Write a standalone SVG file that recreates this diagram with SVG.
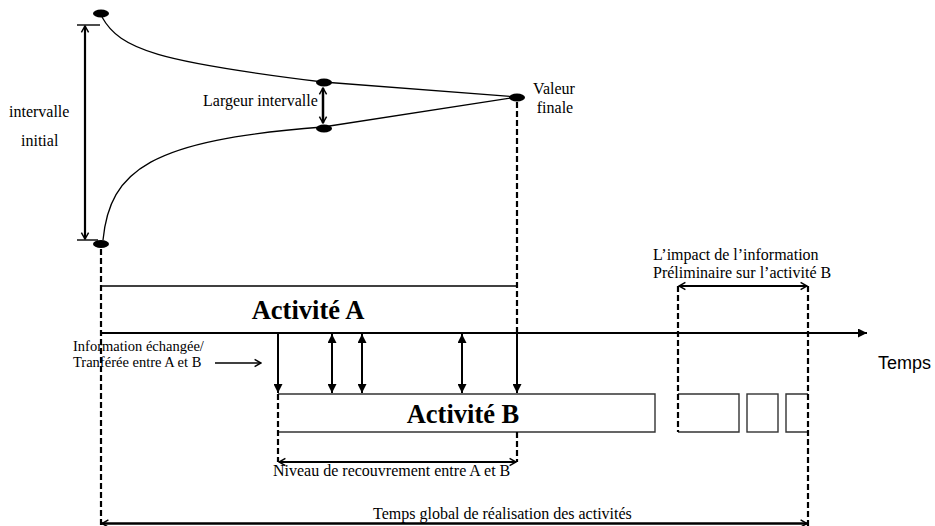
<svg xmlns="http://www.w3.org/2000/svg" width="935" height="526" viewBox="0 0 935 526">
<defs>
<style>
.t{font-family:"Liberation Serif","Times New Roman",serif;font-size:16px;fill:#000}
.ti{font-family:"Liberation Serif","Times New Roman",serif;font-size:14.5px;fill:#000}
.b{font-family:"Liberation Serif","Times New Roman",serif;font-size:26.5px;font-weight:bold;fill:#000}
.s{font-family:"Liberation Sans",Arial,sans-serif;font-size:18px;fill:#000}
.ln{stroke:#000;fill:none}
.dash{stroke:#000;stroke-width:2.2;stroke-dasharray:6,3;fill:none}
.box{stroke:#333;stroke-width:1.4;fill:none}
.dot{fill:#000}
</style>
<marker id="tri" viewBox="0 0 10 10" refX="10" refY="5" markerUnits="userSpaceOnUse" markerWidth="10" markerHeight="9" orient="auto-start-reverse">
<path d="M0,0 L10,5 L0,10 z" fill="#000"/>
</marker>
<marker id="vee" viewBox="0 0 10 10" refX="9" refY="5" markerUnits="userSpaceOnUse" markerWidth="8" markerHeight="10" orient="auto-start-reverse">
<path d="M1,0.5 L9,5 L1,9.5" fill="none" stroke="#000" stroke-width="1.8"/>
</marker>
</defs>
<rect width="935" height="526" fill="#fff"/>

<g id="convergence">
<path class="ln" stroke-width="1.3" d="M102,17 C120,50 160,62 323,82 L517,97"/>
<path class="ln" stroke-width="1.3" d="M103,240 C110,170 150,140 323,127 L517,97"/>
<ellipse class="dot" cx="101" cy="13.5" rx="8" ry="4"/>
<ellipse class="dot" cx="101" cy="244" rx="8" ry="4"/>
<ellipse class="dot" cx="324" cy="82.5" rx="8" ry="4"/>
<ellipse class="dot" cx="324" cy="128.5" rx="8" ry="4"/>
<ellipse class="dot" cx="517" cy="97.5" rx="8" ry="4"/>
</g>

<g id="label-intervalle-initial">
<text class="t" x="9" y="117">intervalle</text>
<text class="t" x="21" y="146">initial</text>
</g>
<g id="label-largeur">
<text class="t" x="203" y="106">Largeur intervalle</text>
</g>
<g id="label-valeur-finale">
<text class="t" x="554" y="94" text-anchor="middle">Valeur</text>
<text class="t" x="555" y="113" text-anchor="middle">finale</text>
</g>

<g id="activite-a">
<line class="ln" stroke-width="1.4" x1="101" y1="286" x2="516" y2="286"/>
<text class="b" x="308" y="319" text-anchor="middle">Activité A</text>
</g>

<g id="activite-b">
<path class="box" d="M278,394 L655,394 L655,432 L278,432"/>
<text class="b" x="463" y="423" text-anchor="middle">Activité B</text>
</g>
<g id="blocs-b">
<path class="box" d="M678,394 L739,394 L739,432 L678,432"/>
<rect class="box" x="747" y="394" width="31" height="38"/>
<path class="box" d="M808,394 L786,394 L786,432 L808,432"/>
</g>

<g id="label-information">
<text class="ti" x="73" y="350.5">Information échangée/</text>
<text class="ti" x="73" y="367">Tranférée entre A et B</text>
</g>
<g id="label-impact">
<text class="t" x="653" y="260">L’impact de l’information</text>
<text class="t" x="653" y="278">Préliminaire sur l’activité B</text>
</g>
<g id="label-temps">
<text class="s" x="878" y="369">Temps</text>
</g>
<g id="label-niveau">
<text class="t" x="273" y="476">Niveau de recouvrement entre A et B</text>
</g>
<g id="label-temps-global">
<text class="t" x="373" y="519">Temps global de réalisation des activités</text>
</g>

<g id="connectors">
<line class="ln" stroke-width="1.4" x1="77" y1="25" x2="100" y2="25"/>
<line class="ln" stroke-width="1.4" x1="77" y1="240" x2="98" y2="240"/>
<line class="ln" stroke-width="2.2" x1="85" y1="26" x2="85" y2="239" marker-start="url(#vee)" marker-end="url(#vee)"/>
<line class="ln" stroke-width="2.5" x1="323" y1="88" x2="323" y2="123" marker-start="url(#vee)" marker-end="url(#vee)"/>
<line class="dash" x1="101" y1="249" x2="101" y2="526"/>
<line class="dash" x1="517" y1="102" x2="517" y2="333"/>
<line class="dash" x1="517" y1="432" x2="517" y2="462"/>
<line class="dash" x1="278" y1="394" x2="278" y2="462"/>
<line class="dash" x1="678" y1="286" x2="678" y2="432"/>
<line class="dash" x1="808" y1="286" x2="808" y2="526"/>
<line class="ln" stroke-width="2.2" x1="101" y1="333" x2="867" y2="333" marker-end="url(#tri)"/>
<line class="ln" stroke-width="2" x1="278" y1="334" x2="278" y2="393" marker-end="url(#tri)"/>
<line class="ln" stroke-width="2" x1="332" y1="334" x2="332" y2="393" marker-start="url(#tri)" marker-end="url(#tri)"/>
<line class="ln" stroke-width="2" x1="362" y1="334" x2="362" y2="393" marker-start="url(#tri)" marker-end="url(#tri)"/>
<line class="ln" stroke-width="2" x1="462" y1="334" x2="462" y2="393" marker-start="url(#tri)" marker-end="url(#tri)"/>
<line class="ln" stroke-width="2" x1="517" y1="334" x2="517" y2="393" marker-end="url(#tri)"/>
<line class="ln" stroke-width="1.6" x1="215" y1="363" x2="261" y2="363" marker-end="url(#vee)"/>
<line class="ln" stroke-width="2" x1="679" y1="286" x2="807" y2="286" marker-start="url(#vee)" marker-end="url(#vee)"/>
<line class="ln" stroke-width="2.2" x1="279" y1="462" x2="516" y2="462" marker-start="url(#vee)" marker-end="url(#vee)"/>
<line class="ln" stroke-width="2.5" x1="102" y1="523.5" x2="807" y2="523.5" marker-start="url(#vee)" marker-end="url(#vee)"/>
</g>
</svg>
